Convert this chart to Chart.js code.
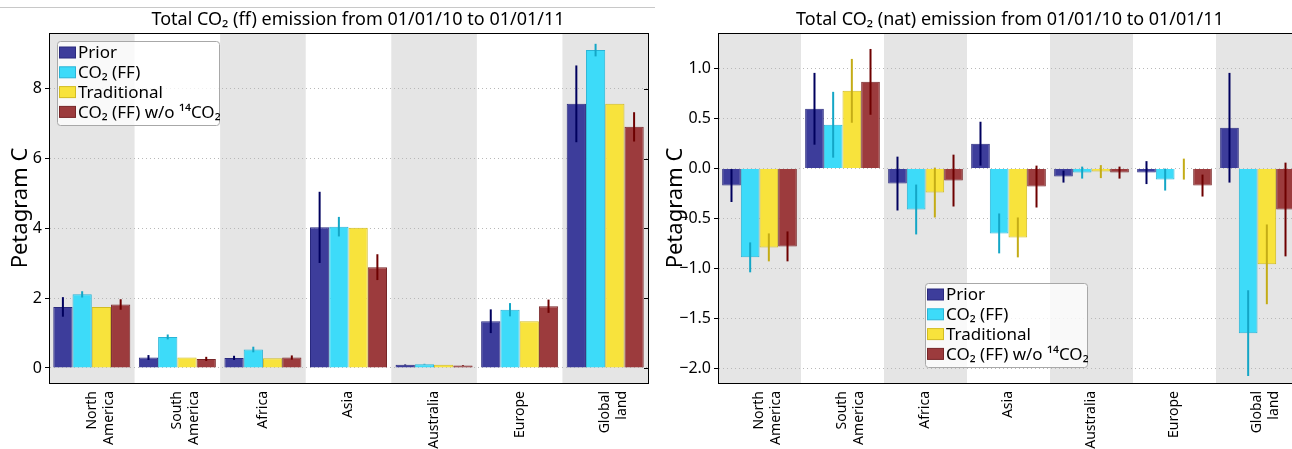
<!DOCTYPE html>
<html>
<head>
<meta charset="utf-8">
<script src="https://cdn.jsdelivr.net/npm/chart.js@4/dist/chart.umd.min.js"></script>
<style>
html, body { margin: 0; padding: 0; background: #fff; overflow: hidden; }
#wrap { position: relative; width: 1292px; height: 449px; overflow: hidden; }
#rule { position: absolute; left: 0; top: 7px; width: 655px; border-top: 1px solid #c8c8c8; }
#ffChart { position: absolute; left: 0; top: 0; }
#natChart { position: absolute; left: 660px; top: 0; }
</style>
</head>
<body>
<div id="wrap">
  <div id="rule"></div>
  <canvas id="ffChart" width="660" height="449"></canvas>
  <canvas id="natChart" width="660" height="449"></canvas>
</div>
<script>
// categories and series
var regions = [["North", "America"], ["South", "America"], "Africa", "Asia", "Australia", "Europe", ["Global", "land"]];
var seriesNames = ["Prior", "CO\u2082 (FF)", "Traditional", "CO\u2082 (FF) w/o \u00b9\u2074CO\u2082"];

// fossil fuel emission (Petagram C)
var ffPrior    = [1.75, 0.30, 0.29, 4.03, 0.09, 1.34, 7.57];
var ffPriorErr = [0.28, 0.07, 0.06, 1.02, 0.01, 0.34, 1.10];
var ffCO2      = [2.11, 0.89, 0.53, 4.05, 0.11, 1.67, 9.11];
var ffCO2Err   = [0.09, 0.07, 0.08, 0.28, 0.01, 0.19, 0.18];
var ffTrad     = [1.75, 0.30, 0.28, 4.02, 0.09, 1.34, 7.57];
var ffNo14     = [1.82, 0.26, 0.30, 2.89, 0.07, 1.77, 6.91];
var ffNo14Err  = [0.15, 0.06, 0.06, 0.37, 0.01, 0.19, 0.42];
var ffTicks = [0, 2, 4, 6, 8];

// natural emission (Petagram C)
var natPrior    = [-0.17, 0.60, -0.15, 0.25, -0.08, -0.04, 0.41];
var natPriorErr = [0.165, 0.36, 0.27, 0.22, 0.06, 0.115, 0.55];
var natCO2      = [-0.89, 0.44, -0.41, -0.65, -0.04, -0.11, -1.65];
var natCO2Err   = [0.15, 0.33, 0.25, 0.20, 0.06, 0.11, 0.43];
var natTrad     = [-0.79, 0.78, -0.24, -0.69, -0.03, -0.005, -0.96];
var natTradErr  = [0.14, 0.32, 0.25, 0.20, 0.065, 0.105, 0.40];
var natNo14     = [-0.78, 0.87, -0.12, -0.18, -0.04, -0.17, -0.41];
var natNo14Err  = [0.15, 0.33, 0.26, 0.21, 0.06, 0.11, 0.47];
var natTicks = [-2.0, -1.5, -1.0, -0.5, 0.0, 0.5, 1.0];

var fills   = ["#3d3d9b", "#3ddbf9", "#f8e33c", "#9c3b3d"];
var borders = ["#2a2a7e", "#2ab4d6", "#d2bc22", "#772628"];
var errCols = ["#00005e", "#14a6c6", "#c4ac16", "#6e0000"];
var FONT = '"Noto Sans", "DejaVu Sans", sans-serif';

function makeSets(vals, errs) {
  return vals.map(function (v, i) {
    return {
      label: seriesNames[i],
      data: v,
      err: errs[i],
      errColor: errCols[i],
      backgroundColor: fills[i],
      borderColor: borders[i],
      borderWidth: 1,
      categoryPercentage: 0.9,
      barPercentage: 1.0
    };
  });
}

var bands = {
  id: "bands",
  beforeDraw: function (chart) {
    var ctx = chart.ctx, a = chart.chartArea, x = chart.scales.x;
    var w = a.width / regions.length;
    ctx.save();
    ctx.beginPath();
    ctx.rect(a.left, a.top, a.width, a.height);
    ctx.clip();
    ctx.fillStyle = "#e5e5e5";
    for (var i = 0; i < regions.length; i += 2) {
      ctx.fillRect(x.getPixelForValue(i) - w / 2, a.top, w, a.height);
    }
    ctx.restore();
  }
};

var errorBars = {
  id: "errorBars",
  afterDatasetsDraw: function (chart) {
    var ctx = chart.ctx, y = chart.scales.y;
    ctx.save();
    ctx.lineWidth = 2;
    chart.data.datasets.forEach(function (ds, i) {
      if (!ds.err) return;
      chart.getDatasetMeta(i).data.forEach(function (bar, j) {
        var v = ds.data[j], e = ds.err[j];
        ctx.strokeStyle = ds.errColor;
        ctx.beginPath();
        ctx.moveTo(bar.x, y.getPixelForValue(v + e));
        ctx.lineTo(bar.x, y.getPixelForValue(v - e));
        ctx.stroke();
      });
    });
    ctx.restore();
  }
};

var frame = {
  id: "frame",
  afterDraw: function (chart, args, opts) {
    var ctx = chart.ctx, a = chart.chartArea, y = chart.scales.y;
    ctx.save();
    ctx.strokeStyle = "#000";
    ctx.lineWidth = 1;
    ctx.strokeRect(Math.round(a.left) + 0.5, Math.round(a.top) + 0.5, Math.round(a.width), Math.round(a.height));
    y.ticks.forEach(function (t) {
      var py = Math.round(y.getPixelForValue(t.value)) + 0.5;
      ctx.beginPath();
      ctx.moveTo(a.right, py);
      ctx.lineTo(a.right - 4, py);
      ctx.stroke();
    });

    // title
    ctx.fillStyle = "#000";
    ctx.font = "18px " + FONT;
    ctx.textAlign = "center";
    ctx.textBaseline = "middle";
    ctx.fillText(opts.title, opts.titleX, 20);

    // legend
    var x0 = a.left + opts.dx, y0 = a.top + opts.dy;
    ctx.beginPath();
    if (ctx.roundRect) ctx.roundRect(x0 + 0.5, y0 + 0.5, 162, 84, 3);
    else ctx.rect(x0 + 0.5, y0 + 0.5, 162, 84);
    ctx.fillStyle = "rgba(255,255,255,0.78)";
    ctx.fill();
    ctx.strokeStyle = "#a8a8a8";
    ctx.stroke();
    ctx.font = "17px " + FONT;
    ctx.textAlign = "left";
    chart.data.datasets.forEach(function (ds, i) {
      var cy = y0 + 11.5 + i * 19.8;
      ctx.fillStyle = ds.backgroundColor;
      ctx.fillRect(x0 + 2.5, cy - 5.5, 16, 11);
      ctx.strokeStyle = ds.borderColor;
      ctx.strokeRect(x0 + 2.5, cy - 5.5, 16, 11);
      ctx.fillStyle = "#000";
      ctx.fillText(ds.label, x0 + 21, cy + 1);
    });
    ctx.restore();
  }
};

function makeChart(id, datasets, yMin, yMax, ticks, fmt, yWidth, titlePad, padRight, frameOpts) {
  return new Chart(document.getElementById(id), {
    type: "bar",
    data: { labels: regions, datasets: datasets },
    plugins: [bands, errorBars, frame],
    options: {
      responsive: false,
      animation: false,
      layout: { padding: { top: 33, left: 0, right: padRight, bottom: 0 } },
      plugins: {
        legend: { display: false },
        tooltip: { enabled: false },
        frame: frameOpts
      },
      scales: {
        x: {
          grid: { display: false },
          border: { display: true, color: "#000" },
          afterFit: function (s) { s.height = 449 - 383; },
          ticks: {
            autoSkip: false,
            minRotation: 90,
            maxRotation: 90,
            padding: 0,
            color: "#000",
            font: { family: FONT, size: 14 }
          }
        },
        y: {
          min: yMin,
          max: yMax,
          afterBuildTicks: function (s) {
            s.ticks = ticks.map(function (v) { return { value: v }; });
          },
          afterFit: function (s) { s.width = yWidth; },
          grid: { color: "#b8b8b8", tickColor: "#000", tickLength: 4, tickBorderDash: [] },
          border: { display: true, color: "#000", dash: [1, 3] },
          ticks: {
            padding: 3,
            color: "#000",
            font: { family: FONT, size: 16 },
            callback: function (v) { return fmt(v); }
          },
          title: {
            display: true,
            text: "Petagram C",
            color: "#000",
            font: { family: FONT, size: 22 },
            padding: { top: titlePad, bottom: 0 }
          }
        }
      }
    }
  });
}

makeChart("ffChart",
  makeSets([ffPrior, ffCO2, ffTrad, ffNo14], [ffPriorErr, ffCO2Err, null, ffNo14Err]),
  -0.43, 9.6, ffTicks,
  function (v) { return String(v); },
  49, 8, 12,
  { title: "Total CO\u2082 (ff) emission from 01/01/10 to 01/01/11", titleX: 358, dx: 8, dy: 8 });

makeChart("natChart",
  makeSets([natPrior, natCO2, natTrad, natNo14], [natPriorErr, natCO2Err, natTradErr, natNo14Err]),
  -2.15, 1.36, natTicks,
  function (v) { return v.toFixed(1).replace("-", "\u2212"); },
  58, 3, 21,
  { title: "Total CO\u2082 (nat) emission from 01/01/10 to 01/01/11", titleX: 350, dx: 207, dy: 250 });
</script>
</body>
</html>
